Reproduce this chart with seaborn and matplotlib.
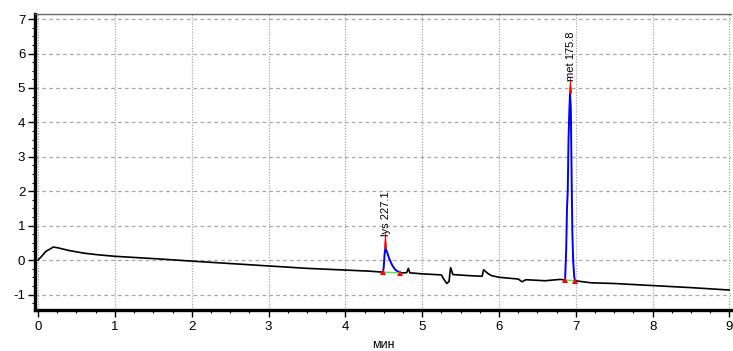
import matplotlib
matplotlib.use("Agg")
import matplotlib.pyplot as plt
from matplotlib.ticker import MultipleLocator
from matplotlib import font_manager
import seaborn as sns
import pandas as pd
import numpy as np

# ---- data ----
time = [0.0, 0.05, 0.1, 0.2, 0.25, 0.4, 0.6, 0.8, 1.0, 1.3, 1.6, 2.0, 2.5, 3.0,
        3.5, 4.0, 4.3, 4.49,
        4.50, 4.51, 4.52, 4.54, 4.57, 4.61, 4.65, 4.71,
        4.78, 4.80, 4.82, 4.84, 5.0, 5.25, 5.28, 5.32, 5.35, 5.36, 5.37, 5.40,
        5.6, 5.78, 5.80, 5.85, 5.9, 6.0, 6.25, 6.30, 6.35, 6.6, 6.8, 6.86,
        6.875, 6.885, 6.895, 6.905, 6.915, 6.925, 6.935, 6.945, 6.955, 6.965, 6.98, 6.99,
        7.2, 7.5, 8.0, 8.5, 9.0]
signal = [0.0, 0.12, 0.25, 0.38, 0.36, 0.28, 0.2, 0.15, 0.11, 0.07, 0.03, -0.03, -0.1, -0.17,
          -0.24, -0.29, -0.32, -0.35,
          -0.2, 0.15, 0.35, 0.25, 0.05, -0.15, -0.28, -0.37,
          -0.37, -0.36, -0.24, -0.37, -0.4, -0.43, -0.55, -0.68, -0.62, -0.4, -0.22, -0.42,
          -0.45, -0.47, -0.28, -0.38, -0.45, -0.5, -0.55, -0.63, -0.57, -0.6, -0.56, -0.58,
          0.3, 1.5, 2.0, 3.5, 4.3, 4.85, 4.4, 2.5, 0.8, 0.0, -0.5, -0.6,
          -0.66, -0.68, -0.74, -0.8, -0.87]

peak_names = ["lys 227.1", "met 175.8"]
peak_start = [4.49, 6.86]
peak_apex = [4.52, 6.925]
peak_end = [4.71, 6.99]

xticks = [0, 1, 2, 3, 4, 5, 6, 7, 8, 9]
yticks = [-1, 0, 1, 2, 3, 4, 5, 6, 7]
xlabel = "мин"

# ---- build frames ----
df = pd.DataFrame({"t": time, "s": signal})
seg = np.zeros(len(df), dtype=int)
in_peak = np.zeros(len(df), dtype=bool)
for i, (a, b) in enumerate(zip(peak_start, peak_end)):
    seg[df["t"] >= b] = i + 1
    in_peak |= (df["t"] >= a) & (df["t"] <= b)
df["seg"] = seg
black = df[~((df["t"] > peak_start[0]) & (df["t"] < peak_end[0])) &
           ~((df["t"] > peak_start[1]) & (df["t"] < peak_end[1]))]
blue = df[in_peak].copy()
blue["pk"] = np.where(blue["t"] < 6, 0, 1)

sns.set_theme(style="white")
avail = {f.name for f in font_manager.fontManager.ttflist}
base_font = "Liberation Sans" if "Liberation Sans" in avail else "DejaVu Sans"
narrow_font = "Liberation Sans Narrow" if "Liberation Sans Narrow" in avail else base_font
plt.rcParams["font.family"] = [base_font, "DejaVu Sans"]
plt.rcParams["axes.unicode_minus"] = False

fig = plt.figure(figsize=(7.33, 3.51), dpi=100)
ax = fig.add_axes([35 / 733, 1 - 310 / 351, 696 / 733, 296 / 351])

sns.lineplot(data=black, x="t", y="s", units="seg", estimator=None, sort=False,
             color="black", linewidth=1.2, ax=ax, zorder=3)
sns.lineplot(data=blue, x="t", y="s", units="pk", estimator=None, sort=False,
             color="#0000ff", linewidth=1.4, ax=ax, zorder=4)

tri = [(-0.07, 0), (0.07, 0), (0, 1), (-0.07, 0)]
for name, a, p, b in zip(peak_names, peak_start, peak_apex, peak_end):
    ya = np.interp(a, time, signal)
    yb = np.interp(b, time, signal)
    yp = np.interp(p, time, signal)
    ax.plot([a, b], [ya, yb], color="#44ee44", lw=1.0, zorder=5)
    ax.plot([a, b], [ya, yb], ls="none", marker="^", ms=4.5, color="red",
            mec="red", mew=0, zorder=6)
    ax.plot([p], [yp], ls="none", marker=tri, ms=22, color="red", mec="red",
            mew=0.5, zorder=6)
    ax.text(p + 0.015, yp + 0.35, name, rotation=90, ha="center", va="bottom",
            fontsize=8, family=[narrow_font, "DejaVu Sans"], color="black", zorder=7)

ax.set_xlim(-0.04, 9.02)
ax.set_ylim(-1.45, 7.15)
ax.set_xticks(xticks)
ax.set_yticks(yticks)
ax.xaxis.set_minor_locator(MultipleLocator(0.25))
ax.yaxis.set_minor_locator(MultipleLocator(0.25))
ax.tick_params(axis="both", which="major", direction="out", length=5, width=1,
               color="black", labelsize=9.5, labelcolor="black", pad=2)
ax.tick_params(axis="x", which="major", pad=3)
ax.tick_params(axis="both", which="minor", direction="out", length=2.5, width=0.8,
               color="black")
ax.tick_params(axis="x", which="both", bottom=True)
ax.tick_params(axis="y", which="both", left=True)

for y in yticks:
    ax.axhline(y, color="#a8a8a8", lw=0.9, ls=(0, (3, 2.5)), zorder=1)
for x in xticks:
    ax.axvline(x, color="#a8a8a8", lw=0.9, ls=(0, (1, 1.2)), zorder=1)

ax.spines["left"].set_linewidth(2.4)
ax.spines["left"].set_color("black")
ax.spines["bottom"].set_linewidth(2.4)
ax.spines["bottom"].set_color("black")
ax.spines["top"].set_linewidth(1.0)
ax.spines["top"].set_color("#666666")
ax.spines["right"].set_visible(False)

ax.set_xlabel(xlabel, fontsize=9, labelpad=4, color="black")
ax.set_ylabel("")

fig.savefig("out.png", dpi=100)
